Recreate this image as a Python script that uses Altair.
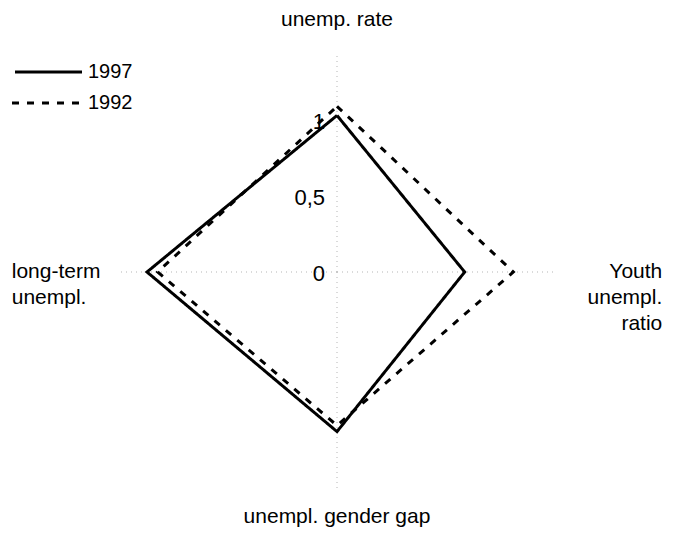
import math
import altair as alt
import pandas as pd

# ---- data ----
AXES = ["unemp. rate", "Youth unempl. ratio", "unempl. gender gap", "long-term unempl."]
SERIES = ["1997", "1992"]
VALUES_1997 = [1.03, 0.84, 1.05, 1.25]
VALUES_1992 = [1.09, 1.16, 1.01, 1.18]
TICK_VALUES = [0, 0.5, 1]
TICK_LABELS = ["0", "0,5", "1"]

# ---- layout ----
W, H = 660, 519
CX, CY = 329, 264          # centre in plot pixels
R = 152                    # pixels per unit
xdom = [-CX / R, (W - CX) / R]
ydom = [(CY - H) / R, CY / R]
FONT = "Liberation Sans"

xs = alt.Scale(domain=xdom, nice=False, zero=False)
ys = alt.Scale(domain=ydom, nice=False, zero=False)
X = lambda f="x": alt.X(f"{f}:Q", scale=xs, axis=None)
Y = lambda f="y": alt.Y(f"{f}:Q", scale=ys, axis=None)

n = len(AXES)
rows = []
for s, vals in zip(SERIES, [VALUES_1997, VALUES_1992]):
    for k in range(n + 1):
        i = k % n
        rows.append({"series": s, "axis": AXES[i], "order": k,
                     "value": vals[i], "angle": 2 * math.pi * i / n})
poly_df = pd.DataFrame(rows)

axes_df = pd.DataFrame({"axis": AXES, "angle": [2 * math.pi * i / n for i in range(n)]})

calc_xy = dict(x="datum.value * sin(datum.angle)", y="datum.value * cos(datum.angle)")

# grid spokes
spokes = alt.Chart(axes_df).transform_calculate(
    x2="1.43 * sin(datum.angle)", y2="1.43 * cos(datum.angle)", x="0", y="0"
).mark_rule(color="#b5b5b5", strokeDash=[1, 4], strokeWidth=1).encode(
    x=X(), y=Y(), x2="x2:Q", y2="y2:Q"
)

# polygons
poly = alt.Chart(poly_df).transform_calculate(**calc_xy).mark_line(
    color="black", strokeWidth=3, strokeJoin="miter", strokeCap="butt"
).encode(
    x=X(), y=Y(), order="order:Q", detail="series:N",
    strokeDash=alt.StrokeDash("series:N", scale=alt.Scale(domain=SERIES, range=[[1, 0], [7, 8]]), legend=None),
)

# tick labels
ticks_df = pd.DataFrame({"value": TICK_VALUES, "label": TICK_LABELS})
ticks = alt.Chart(ticks_df).transform_calculate(x="0", y="datum.value").mark_text(
    align="right", baseline="middle", dx=-12, dy=2, fontSize=22, font=FONT, color="black"
).encode(x=X(), y=Y(), text="label:N")

# category labels
LABEL_R = [1.66, 2.14, 1.61, 2.14]
LABEL_ALIGN = ["center", "right", "center", "left"]
lab_df = axes_df.copy()
lab_df["r"] = LABEL_R
lab_df["text"] = ["unemp. rate", "Youth\nunempl.\nratio", "unempl. gender gap", "long-term\nunempl."]
label_layers = []
for j, al in enumerate(LABEL_ALIGN):
    label_layers.append(
        alt.Chart(lab_df.iloc[[j]]).transform_calculate(
            x="datum.r * sin(datum.angle)", y="datum.r * cos(datum.angle)"
        ).mark_text(align=al, baseline="middle", fontSize=21, font=FONT, color="black",
                    lineBreak="\n", lineHeight=26).encode(x=X(), y=Y(), text="text:N")
    )

# manual legend
leg_layers = []
dashes = [[1, 0], [7, 8]]
for i, s in enumerate(SERIES):
    yy = 64 + 31 * i
    sdf = pd.DataFrame({"series": [s]})
    leg_layers.append(alt.Chart(sdf).mark_rule(color="black", strokeWidth=3, strokeDash=dashes[i]).encode(
        x=alt.value(4 if i else 7), x2=alt.value(74), y=alt.value(yy)))
    leg_layers.append(alt.Chart(sdf).mark_text(align="left", baseline="middle", fontSize=20, font=FONT,
                                               color="black").encode(
        x=alt.value(80), y=alt.value(yy), text="series:N"))

chart = alt.layer(spokes, poly, ticks, *label_layers, *leg_layers).properties(
    width=W, height=H, padding=0, background="white",
    autosize=alt.AutoSizeParams(type="none")
).configure_view(stroke=None, strokeWidth=0)

chart.save("out.html", embed_options={"renderer": "svg", "actions": False})
